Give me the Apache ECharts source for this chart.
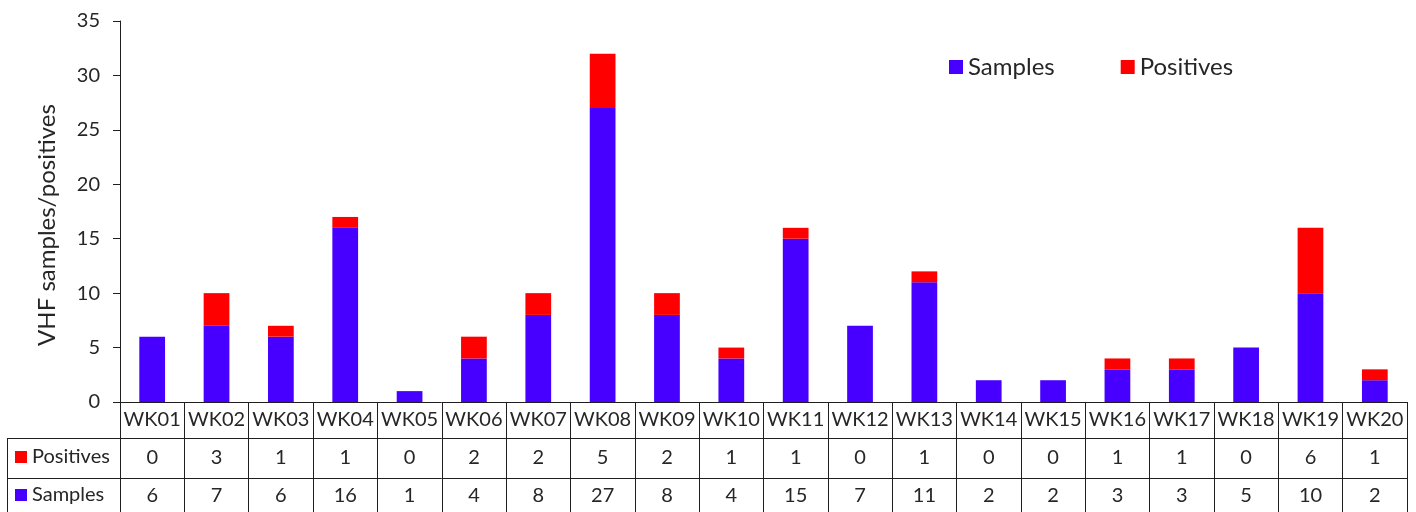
<!DOCTYPE html>
<html>
<head>
<meta charset="utf-8">
<script src="https://cdn.jsdelivr.net/npm/echarts@6/dist/echarts.min.js"></script>
<style>
  html, body { margin: 0; padding: 0; background: #fff; }
  #chart { width: 1416px; height: 512px; }
</style>
</head>
<body>
<div id="chart"></div>
<script>
// Weekly VHF samples and positives
const weeks = ['WK01','WK02','WK03','WK04','WK05','WK06','WK07','WK08','WK09','WK10',
               'WK11','WK12','WK13','WK14','WK15','WK16','WK17','WK18','WK19','WK20'];
const samples   = [6, 7, 6, 16, 1, 4, 8, 27, 8, 4, 15, 7, 11, 2, 2, 3, 3, 5, 10, 2];
const positives = [0, 3, 1, 1, 0, 2, 2, 5, 2, 1, 1, 0, 1, 0, 0, 1, 1, 0, 6, 1];
const yTicks = { min: 0, max: 35, interval: 5 };

const BLUE = '#4700FF';
const RED = '#FF0000';
const INK = '#262626';
const LINE = '#1f1f1f';
const FONT = 'Lato';

// layout of the plot and of the data table under it
const W = 1416, H = 512;
const GRID_LEFT = 120, GRID_RIGHT = 9, GRID_TOP = 21, GRID_BOTTOM = 110;
const ROW_CAT = 36, ROW_POS = 40, ROW_SMP = 40;
const TABLE_LEFT = 7;
const axisY = H - GRID_BOTTOM;

function tableAxis(offset, rowH, labelMargin, formatter) {
  return {
    type: 'category',
    data: weeks,
    position: 'bottom',
    offset: offset,
    boundaryGap: true,
    axisLine: { show: true, lineStyle: { color: LINE, width: 1 } },
    axisTick: { show: true, inside: false, length: rowH, interval: 0, lineStyle: { color: LINE, width: 1 } },
    axisLabel: {
      show: true, interval: 0, margin: labelMargin, verticalAlign: 'middle',
      color: INK, fontFamily: FONT, fontSize: 20, formatter: formatter
    },
    splitLine: { show: false }
  };
}

const chart = echarts.init(document.getElementById('chart'), null, { renderer: 'canvas' });

chart.setOption({
  backgroundColor: '#fff',
  animation: false,
  textStyle: { fontFamily: FONT },
  grid: { left: GRID_LEFT, right: GRID_RIGHT, top: GRID_TOP, bottom: GRID_BOTTOM, containLabel: false },
  legend: [
    {
      data: ['Samples', 'Positives'],
      left: 949, top: 55, padding: 0,
      icon: 'rect', itemWidth: 14, itemHeight: 14, itemGap: 66,
      selectedMode: false,
      textStyle: { color: INK, fontFamily: FONT, fontSize: 24 }
    },
    {
      data: ['Positives'],
      left: 15, top: axisY + ROW_CAT + 9, padding: 0,
      icon: 'rect', itemWidth: 12, itemHeight: 12,
      selectedMode: false,
      textStyle: { color: INK, fontFamily: FONT, fontSize: 20 }
    },
    {
      data: ['Samples'],
      left: 15, top: axisY + ROW_CAT + ROW_POS + 7, padding: 0,
      icon: 'rect', itemWidth: 12, itemHeight: 12,
      selectedMode: false,
      textStyle: { color: INK, fontFamily: FONT, fontSize: 20 }
    }
  ],
  xAxis: [
    tableAxis(0, ROW_CAT, ROW_CAT / 2, null),
    tableAxis(ROW_CAT, ROW_POS, 20, function (v, i) { return String(positives[i]); }),
    tableAxis(ROW_CAT + ROW_POS, ROW_SMP + 10, 18, function (v, i) { return String(samples[i]); })
  ],
  yAxis: {
    type: 'value',
    min: yTicks.min, max: yTicks.max, interval: yTicks.interval,
    name: 'VHF samples/positives',
    nameLocation: 'middle',
    nameGap: 61,
    nameRotate: 90,
    nameTextStyle: { color: INK, fontFamily: FONT, fontSize: 24, padding: [0, 27, 0, 0] },
    axisLine: { show: true, lineStyle: { color: LINE, width: 1 } },
    axisTick: { show: true, inside: false, length: 7, lineStyle: { color: LINE, width: 1 } },
    axisLabel: { color: INK, fontFamily: FONT, fontSize: 20, margin: 20 },
    splitLine: { show: false }
  },
  series: [
    {
      name: 'Samples', type: 'bar', stack: 'total',
      xAxisIndex: 0, barWidth: '40%',
      itemStyle: { color: BLUE },
      data: samples
    },
    {
      name: 'Positives', type: 'bar', stack: 'total',
      xAxisIndex: 0, barWidth: '40%',
      itemStyle: { color: RED },
      data: positives
    }
  ],
  graphic: [
    // row-header cell borders to the left of the plot
    { type: 'line', silent: true,
      shape: { x1: TABLE_LEFT, y1: axisY + ROW_CAT + 0.5, x2: GRID_LEFT, y2: axisY + ROW_CAT + 0.5 },
      style: { stroke: LINE, lineWidth: 1 } },
    { type: 'line', silent: true,
      shape: { x1: TABLE_LEFT, y1: axisY + ROW_CAT + ROW_POS + 0.5, x2: GRID_LEFT, y2: axisY + ROW_CAT + ROW_POS + 0.5 },
      style: { stroke: LINE, lineWidth: 1 } },
    { type: 'line', silent: true,
      shape: { x1: TABLE_LEFT + 0.5, y1: axisY + ROW_CAT, x2: TABLE_LEFT + 0.5, y2: H + 10 },
      style: { stroke: LINE, lineWidth: 1 } }
  ]
});
</script>
</body>
</html>
